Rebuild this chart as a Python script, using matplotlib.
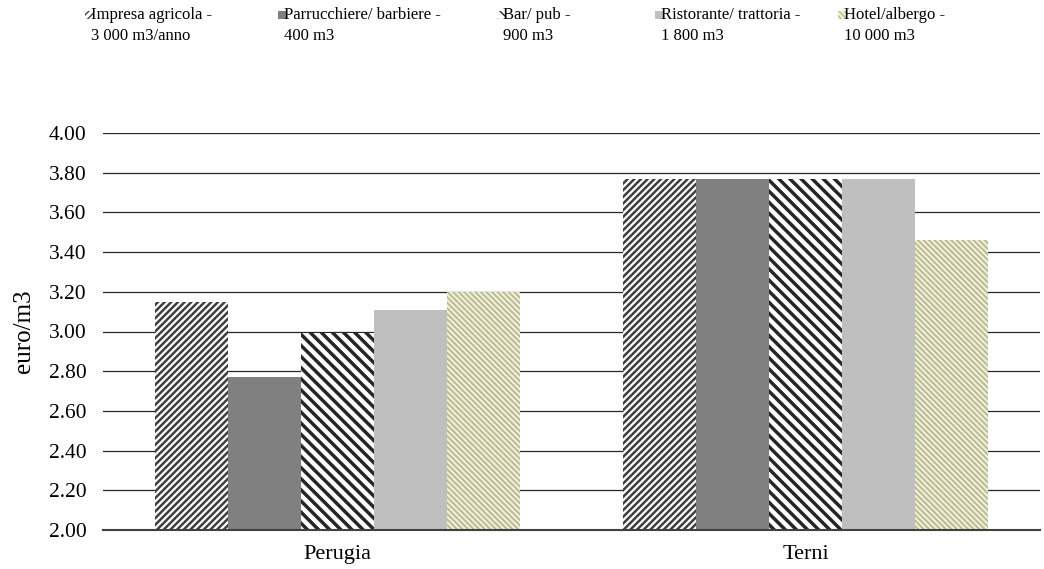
import matplotlib
matplotlib.use("Agg")
import matplotlib.pyplot as plt
from matplotlib.patches import Rectangle
import numpy as np

# --- DATI ---
citta = ["Perugia", "Terni"]
serie = [
    "Impresa agricola -\n3 000 m3/anno",
    "Parrucchiere/ barbiere -\n400 m3",
    "Bar/ pub -\n900 m3",
    "Ristorante/ trattoria -\n1 800 m3",
    "Hotel/albergo -\n10 000 m3",
]
impresa = [3.15, 3.77]
parrucchiere = [2.77, 3.77]
bar_pub = [2.99, 3.77]
ristorante = [3.11, 3.77]
hotel = [3.20, 3.46]
valori = [impresa, parrucchiere, bar_pub, ristorante, hotel]
y_ticks = [2.00, 2.20, 2.40, 2.60, 2.80, 3.00, 3.20, 3.40, 3.60, 3.80, 4.00]

# --- STILI (facecolor, hatch color, hatch, hatch lw) ---
stili = [
    ("white", "#3f3f3f", "/////", 1.8),
    ("#808080", "#808080", None, 1.0),
    ("white", "#262626", "\\\\\\", 2.5),
    ("#bfbfbf", "#bfbfbf", None, 1.0),
    ("#f3f3bd", "#b4b4b0", "\\\\\\\\\\\\", 1.3),
]

plt.rcParams["font.family"] = ["Liberation Serif", "DejaVu Serif"]
plt.rcParams["font.size"] = 12

fig = plt.figure(figsize=(10.44, 5.69), dpi=100)
ax = fig.add_axes([103 / 1044, 39 / 569, 937 / 1044, 397 / 569])

x = np.arange(len(citta))
w = 0.156
for i, (vals, (fc, hc, hatch, hlw)) in enumerate(zip(valori, stili)):
    with plt.rc_context({"hatch.linewidth": hlw}):
        barre = ax.bar(x + (i - 2) * w, np.array(vals) - 2.0, bottom=2.0, width=w,
                       color=fc, edgecolor=hc, hatch=hatch, linewidth=0, zorder=3)
    for b in barre:
        if hasattr(b, "set_hatch_linewidth"):
            b.set_hatch_linewidth(hlw)

ax.set_ylim(2.0, 4.0)
ax.set_xlim(-0.5, 1.5)
ax.set_yticks(y_ticks)
ax.set_yticklabels([f"{v:.2f}" for v in y_ticks], fontsize=15.5)
ax.set_xticks(x)
ax.set_xticklabels(citta, fontsize=16)
ax.tick_params(axis="both", length=0)
ax.tick_params(axis="y", pad=12)
ax.tick_params(axis="x", pad=11)
ax.set_ylabel("euro/m3", fontsize=18, labelpad=10)

for v in y_ticks[1:]:
    ax.axhline(v, color="#262626", linewidth=0.9, zorder=1)
for s in ["top", "right", "left"]:
    ax.spines[s].set_visible(False)
ax.spines["bottom"].set_color("#404040")
ax.spines["bottom"].set_linewidth(1.5)
ax.spines["bottom"].set_zorder(4)

# legenda manuale (marcatore allineato alla prima riga)
leg_x = [85, 278, 497, 655, 838]
for lx, nome, (fc, hc, hatch, hlw) in zip(leg_x, serie, stili):
    with plt.rc_context({"hatch.linewidth": 1.0}):
        fig.patches.append(Rectangle((lx / 1044, 1 - 19 / 569), 8 / 1044, 8 / 569,
                                     transform=fig.transFigure, facecolor=fc,
                                     edgecolor=hc, hatch=hatch, linewidth=0))
    fig.text((lx + 6) / 1044, 1 - 7 / 569, nome, ha="left", va="top",
             fontsize=12, linespacing=1.45)

fig.savefig("out.png", dpi=100)
